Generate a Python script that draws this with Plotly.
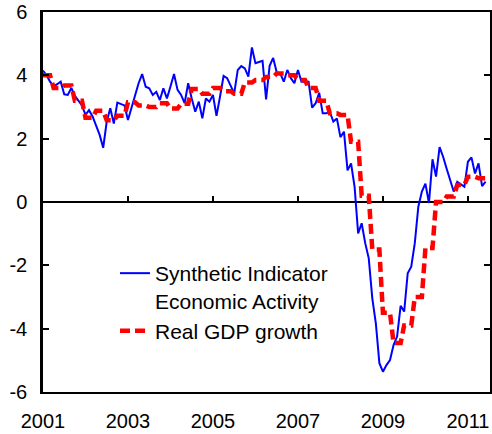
import plotly.graph_objects as go

# Monthly synthetic indicator of economic activity (Jan 2001 .. Jun 2011)
start_year = 2001
indicator = [
    4.15, 4.0, 3.8, 3.65, 3.72, 3.8, 3.4, 3.38, 3.6, 3.35, 3.2, 3.05,
    2.75, 2.9, 2.7, 2.4, 2.12, 1.71, 2.54, 2.96, 2.48, 3.14, 3.1, 3.05,
    2.59, 3.0, 3.33, 3.75, 4.04, 3.64, 3.59, 3.38, 3.48, 3.22, 3.59, 3.27,
    3.65, 4.04, 3.54, 3.38, 3.12, 3.75, 3.27, 2.85, 3.17, 2.64, 3.27, 3.17,
    3.38, 2.72, 3.33, 3.98, 3.91, 3.64, 3.43, 4.17, 4.29, 4.22, 3.96, 4.88,
    4.38, 4.42, 4.46, 3.24, 4.3, 4.55, 4.1, 4.06, 3.8, 4.17, 3.91, 3.75,
    4.17, 3.8, 3.8, 3.8, 2.98, 3.12, 3.45, 2.8, 2.8, 2.85, 2.54, 2.64,
    2.05, 2.22, 1.0, 1.22, 0.48, -0.99, -0.67, -1.3, -1.78, -3.04, -3.83, -5.09,
    -5.36, -5.15, -4.99, -4.52, -4.25, -3.28, -3.46, -2.25, -2.04, -1.3, -0.15, 0.33,
    0.58, -0.03, 1.35, 0.8, 1.73, 1.43, 1.05, 0.68, 0.33, 0.64, 0.56, 0.48,
    1.27, 1.41, 0.9, 1.22, 0.5, 0.64,
]

# Quarterly real GDP growth (2001Q1 .. 2011Q2), shown at monthly frequency
gdp_quarterly = [
    4.0, 3.6, 3.68, 3.2,
    2.66, 2.88, 2.58, 2.72,
    3.15, 3.05, 3.0, 3.12,
    2.95, 3.1, 3.57, 3.42,
    3.6, 3.5, 3.42, 3.77,
    3.85, 3.95, 4.06, 4.0,
    3.85, 3.6, 3.2, 2.8,
    2.75, 1.9, 0.2, -1.5,
    -3.5, -4.45, -3.9, -3.0,
    -1.45, 0.0, 0.17, 0.54,
    0.8, 0.75,
]

tick_years = [2001, 2003, 2005, 2007, 2009, 2011]
tick_labels = ["2001", "2003", "2005", "2007", "2009", "2011"]
y_ticks = [-6, -4, -2, 0, 2, 4, 6]
y_labels = ["-6", "-4", "-2", "0", "2", "4", "6"]

months_x = [start_year + m / 12 for m in range(len(indicator))]
gdp_monthly = [v for v in gdp_quarterly for _ in range(3)]
gdp_x = [start_year + m / 12 for m in range(len(gdp_monthly))]

FONT = "Liberation Sans, Arial, sans-serif"
X_RANGE = [2001, 2011.52]

fig = go.Figure()
fig.add_trace(go.Scatter(
    x=months_x, y=indicator, mode="lines",
    name="Synthetic Indicator<br>Economic Activity",
    line=dict(color="#0000FF", width=2),
))
fig.add_trace(go.Scatter(
    x=gdp_x, y=gdp_monthly, mode="lines",
    name="Real GDP growth",
    line=dict(color="#FF0000", width=4.5, dash="10px,5px"),
))
# empty trace that makes the helper axis pair (zero-line tick marks) render
fig.add_trace(go.Scatter(
    x=[], y=[], xaxis="x2", yaxis="y2", mode="lines",
    showlegend=False, hoverinfo="skip",
))

fig.update_layout(
    width=492, height=434,
    margin=dict(l=43, r=2, t=12, b=42, autoexpand=False),
    paper_bgcolor="white", plot_bgcolor="rgba(0,0,0,0)",
    font=dict(family=FONT, size=20, color="black"),
    showlegend=True,
    legend=dict(
        x=72 / 447, y=139 / 380, xanchor="left", yanchor="top",
        bgcolor="rgba(0,0,0,0)", font=dict(family=FONT, size=21, color="black"),
        valign="top", tracegroupgap=10,
    ),
    xaxis=dict(
        domain=[0, 1], range=X_RANGE, tickvals=tick_years, ticktext=tick_labels,
        showgrid=False, zeroline=False, showline=True, linecolor="black",
        linewidth=2, mirror="all", ticks="", automargin=False,
        ticklabelstandoff=10, ticklabeloverflow="allow",
        tickfont=dict(family=FONT, size=20, color="black"),
    ),
    yaxis=dict(
        domain=[0, 1], range=[-6, 6], tickvals=y_ticks, ticktext=y_labels,
        showgrid=False, zeroline=True, zerolinecolor="black", zerolinewidth=2,
        showline=True, linecolor="black",
        linewidth=2.5, mirror="all", ticks="inside", ticklen=6, tickwidth=2,
        tickcolor="black", automargin=False,
        ticklabelstandoff=9, ticklabeloverflow="allow",
        tickfont=dict(family=FONT, size=20, color="black"),
    ),
    # helper subplot covering the upper half: its bottom edge is the zero line,
    # used only to draw the upward tick marks there
    xaxis2=dict(
        domain=[0, 1], range=X_RANGE, anchor="y2", side="bottom",
        tickvals=tick_years, ticks="inside", ticklen=6,
        tickwidth=2, tickcolor="black", showticklabels=False,
        showgrid=False, zeroline=False, showline=False, automargin=False,
    ),
    yaxis2=dict(
        domain=[0.5, 1], range=[0, 6], anchor="x2", showticklabels=False,
        ticks="", showline=False, showgrid=False, zeroline=False,
    ),
)

# remove the browser's default 8px page margin so the figure sits at (0, 0)
fig.write_html(
    "out.html",
    config={"displayModeBar": False},
    post_script="document.body.style.margin='0';",
)
